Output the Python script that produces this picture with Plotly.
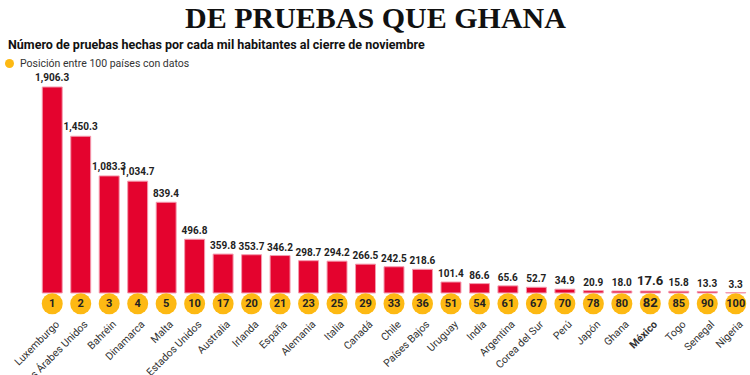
import plotly.graph_objects as go

countries = ["Luxemburgo", "Emiratos Árabes Unidos", "Bahréin", "Dinamarca", "Malta",
             "Estados Unidos", "Australia", "Irlanda", "España", "Alemania", "Italia",
             "Canadá", "Chile", "Países Bajos", "Uruguay", "India", "Argentina",
             "Corea del Sur", "Perú", "Japón", "Ghana", "México", "Togo", "Senegal", "Nigeria"]
tests_per_1000 = [1906.3, 1450.3, 1083.3, 1034.7, 839.4, 496.8, 359.8, 353.7, 346.2, 298.7,
                  294.2, 266.5, 242.5, 218.6, 101.4, 86.6, 65.6, 52.7, 34.9, 20.9, 18.0,
                  17.6, 15.8, 13.3, 3.3]
rank = [1, 2, 3, 4, 5, 10, 17, 20, 21, 23, 25, 29, 33, 36, 51, 54, 61, 67, 70, 78, 80,
        82, 85, 90, 100]
highlight = "México"

COND = "Roboto, Liberation Sans, sans-serif"
RED = "#E4032E"
GOLD = "#FDB913"

L, R, T, B = 38, 0, 80, 60
W, H = 750, 375
PW, PH = W - L - R, H - T - B


def px_x(p):
    return (p - L) / PW


def px_y(p):
    return (H - B - p) / PH


xs = list(range(len(countries)))
is_hl = [c == highlight for c in countries]

bar_text = [f"<b>{v:,.1f}</b>" for v in tests_per_1000]
bar_sizes = [13 if h else 10 for h in is_hl]
rank_text = [f"<b>{r}</b>" for r in rank]
rank_sizes = [13 if h else 11 for h in is_hl]
tick_text = [f"<b>{c}</b>" if h else c for c, h in zip(countries, is_hl)]

fig = go.Figure()
fig.add_trace(go.Bar(
    x=xs, y=tests_per_1000,
    marker=dict(color=RED, line=dict(color="#F49AAE", width=1)),
    text=bar_text, textposition="outside", constraintext="none",
    textfont=dict(family=COND, size=bar_sizes, color="#222"),
    cliponaxis=False, hoverinfo="skip",
))
fig.add_trace(go.Scatter(
    x=xs, y=[-100] * len(xs), mode="markers+text",
    marker=dict(size=21, color=GOLD, line=dict(width=0)),
    text=rank_text, textposition="middle center",
    textfont=dict(family=COND, size=rank_sizes, color="#222"),
    cliponaxis=False, hoverinfo="skip",
))

fig.update_layout(
    width=W, height=H,
    margin=dict(l=L, r=R, t=T, b=B, autoexpand=False),
    paper_bgcolor="white", plot_bgcolor="white",
    showlegend=False, bargap=0.3,
    xaxis=dict(tickmode="array", tickvals=xs, ticktext=tick_text, tickangle=-45,
               range=[-0.5, len(xs) - 0.5], showgrid=False, zeroline=False,
               showline=False, ticks="", automargin=False, ticklabelshift=4,
               tickfont=dict(family=COND, size=10.5, color="#333")),
    yaxis=dict(range=[-204, 1971], visible=False, showgrid=False, zeroline=False,
               automargin=False),
    shapes=[dict(type="circle", xref="paper", yref="paper",
                 x0=px_x(5), x1=px_x(14), y0=px_y(59), y1=px_y(68),
                 fillcolor=GOLD, line=dict(width=0))],
    annotations=[
        dict(text="<b>DE PRUEBAS QUE GHANA</b>", xref="paper", yref="paper",
             x=px_x(375), y=px_y(36), xanchor="center", yanchor="bottom",
             showarrow=False,
             font=dict(family="Liberation Serif, serif", size=30, color="#111")),
        dict(text="<b>Número de pruebas hechas por cada mil habitantes al cierre de noviembre</b>",
             xref="paper", yref="paper", x=px_x(6), y=px_y(45), xanchor="left",
             yanchor="middle", showarrow=False,
             font=dict(family=COND, size=12.5, color="#111")),
        dict(text="Posición entre 100 países con datos",
             xref="paper", yref="paper", x=px_x(18), y=px_y(63.5), xanchor="left",
             yanchor="middle", showarrow=False,
             font=dict(family=COND, size=10.5, color="#333")),
    ],
)

fig.write_html("out.html", config={"displayModeBar": False},
               post_script="document.body.style.margin='0';")
